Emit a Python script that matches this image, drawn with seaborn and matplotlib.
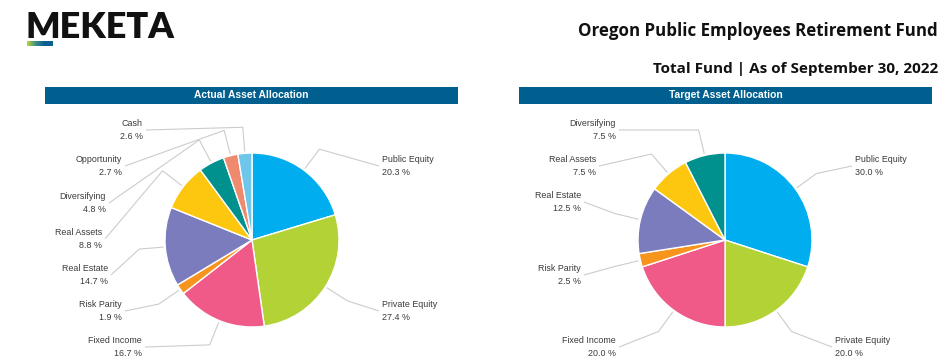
import numpy as np
import matplotlib.pyplot as plt
import seaborn as sns
from matplotlib.patches import Rectangle
from matplotlib.colors import LinearSegmentedColormap

# data
actual_labels = ['Public Equity', 'Private Equity', 'Fixed Income', 'Risk Parity', 'Real Estate',
                 'Real Assets', 'Diversifying', 'Opportunity', 'Cash']
actual_values = [20.3, 27.4, 16.7, 1.9, 14.7, 8.8, 4.8, 2.7, 2.6]

target_labels = ['Public Equity', 'Private Equity', 'Fixed Income', 'Risk Parity', 'Real Estate',
                 'Real Assets', 'Diversifying']
target_values = [30.0, 20.0, 20.0, 2.5, 12.5, 7.5, 7.5]

slice_colors = {
    'Public Equity': '#00aeef', 'Private Equity': '#b3d236', 'Fixed Income': '#ef5a89',
    'Risk Parity': '#f7941d', 'Real Estate': '#7a7cbd', 'Real Assets': '#fdc710',
    'Diversifying': '#00918e', 'Opportunity': '#f08a6e', 'Cash': '#6ec6ea',
}

# label anchors in figure pixels (x, y, side)
actual_anchors = {
    'Public Equity': (379, 166, 'left'), 'Private Equity': (379, 311, 'left'),
    'Fixed Income': (145, 347, 'right'), 'Risk Parity': (125, 311, 'right'),
    'Real Estate': (111, 275, 'right'), 'Real Assets': (105, 239, 'right'),
    'Diversifying': (109, 203, 'right'), 'Opportunity': (125, 166, 'right'),
    'Cash': (146, 130, 'right'),
}
target_anchors = {
    'Public Equity': (852, 166, 'left'), 'Private Equity': (832, 347, 'left'),
    'Fixed Income': (619, 347, 'right'), 'Risk Parity': (584, 275, 'right'),
    'Real Estate': (584, 202, 'right'), 'Real Assets': (599, 166, 'right'),
    'Diversifying': (619, 130, 'right'),
}

W, H = 951, 363
sns.set_theme(style='white')
plt.rcParams['font.family'] = ['Liberation Sans', 'DejaVu Sans']

fig = plt.figure(figsize=(W / 100, H / 100), dpi=100)
fig.patch.set_facecolor('white')

# background axes in pixel coordinates
bg = fig.add_axes([0, 0, 1, 1])
bg.set_xlim(0, W)
bg.set_ylim(H, 0)
bg.axis('off')

# logo
bg.text(26, 38, 'MEKETA', fontsize=26, fontweight='heavy', family=['Lato', 'DejaVu Sans'],
        color='#111111', ha='left', va='baseline')
grad = LinearSegmentedColormap.from_list('g', ['#b8d432', '#3f8f8a', '#0b5f92', '#0b5f92'])
bg.imshow(np.linspace(0, 1, 50)[None, :], cmap=grad, extent=[27, 53, 46, 41], aspect='auto')

# titles
bg.text(938, 36, 'Oregon Public Employees Retirement Fund', fontsize=12.2, fontweight='bold',
        family=['Open Sans', 'DejaVu Sans'], color='#111111', ha='right', va='baseline')
bg.text(938, 73, 'Total Fund | As of September 30, 2022', fontsize=11, fontweight='bold',
        family=['Open Sans', 'DejaVu Sans'], color='#111111', ha='right', va='baseline')

# header bars
for x0, title in [(45, 'Actual Asset Allocation'), (519, 'Target Asset Allocation')]:
    bg.add_patch(Rectangle((x0, 87), 413, 17, facecolor='#005f8e', edgecolor='none'))
    bg.text(x0 + 206.5, 95.5, title, fontsize=7.4, fontweight='bold', color='white',
            ha='center', va='center')

R = 87.0  # pie radius in pixels
CY = 240
TOP = 108


def draw_pie(cx, x_lo, x_hi, labels, values, anchors):
    ax = fig.add_axes([x_lo / W, 0, (x_hi - x_lo) / W, (H - TOP) / H])
    wedges, _ = ax.pie(values, colors=[slice_colors[l] for l in labels], startangle=90,
                       counterclock=False, radius=1,
                       wedgeprops=dict(edgecolor='white', linewidth=1))
    ax.set_aspect('auto')
    ax.set_xlim((x_lo - cx) / R, (x_hi - cx) / R)
    ax.set_ylim((CY - H) / R, (CY - TOP) / R)
    ax.axis('off')
    for w, lab, val in zip(wedges, labels, values):
        ang = np.deg2rad((w.theta1 + w.theta2) / 2)
        d = np.array([np.cos(ang), np.sin(ang)])
        p0 = d * 1.02
        p1 = d * 1.3
        px, py, side = anchors[lab]
        tx, ty = (px - cx) / R, (CY - py) / R
        ax.plot([p0[0], p1[0], tx], [p0[1], p1[1], ty], color='#cccccc', lw=0.8,
                solid_capstyle='butt')
        off = 3 / R
        ax.text(tx + (off if side == 'left' else -off), ty, f'{lab}\n{val:.1f} %',
                fontsize=6.4, color='#3a3a3a', ha=side, va='center', multialignment=side,
                linespacing=1.45)
    return ax


draw_pie(252, 0, 476, actual_labels, actual_values, actual_anchors)
draw_pie(725, 476, W, target_labels, target_values, target_anchors)

fig.savefig('out.png', dpi=100, facecolor='white')
